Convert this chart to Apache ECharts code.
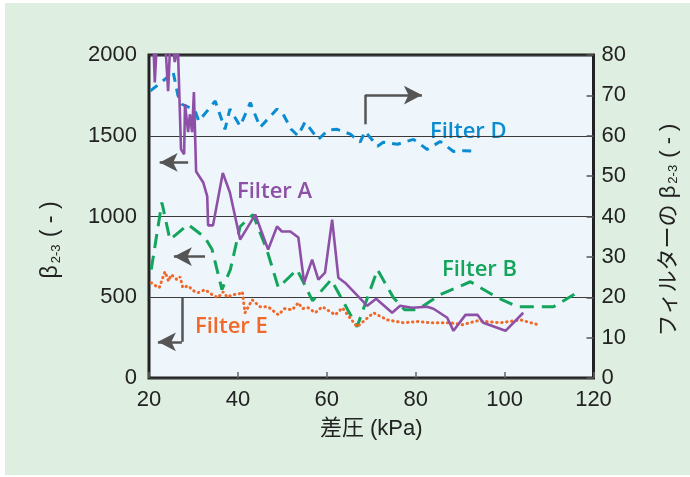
<!DOCTYPE html>
<html><head><meta charset="utf-8">
<script src="https://cdn.jsdelivr.net/npm/echarts@6/dist/echarts.min.js"></script>
<style>html,body{margin:0;padding:0;background:#fff;}#c{position:absolute;left:5px;top:3px;width:685px;height:472px;background:#deeee0;}</style>
</head><body><div id="c"></div>
<script>
// ---- data ----
const xTicks = [20, 40, 60, 80, 100, 120];
const leftTicks = [0, 500, 1000, 1500, 2000];
const rightTicks = [0, 10, 20, 30, 40, 50, 60, 70, 80];

const aX = [20.9, 21.3, 21.9, 23.5, 24.3, 24.9, 25.8, 26.5, 27.2, 27.9, 28.1, 28.8, 29.2, 29.7, 30.1, 30.6, 32.2, 33.1, 33.3, 34.4, 36.6, 38.2, 40.5, 43.9, 46.8, 48.8, 49.9, 51.8, 53.6, 54.9, 56.7, 58.1, 59.6, 61.2, 62.6, 64.1, 69.1, 71.1, 74.7, 76.5, 79.2, 82.6, 84.0, 87.1, 88.5, 91.2, 93.9, 95.2, 100.2, 104.2];
const aY = [2150, 1830, 2150, 2150, 1776, 2150, 1956, 2050, 1416, 1385, 1696, 1522, 1633, 1522, 1770, 1279, 1211, 1124, 945, 945, 1270, 1149, 857, 1012, 795, 938, 907, 907, 870, 590, 733, 609, 652, 981, 621, 590, 447, 491, 404, 447, 435, 441, 429, 373, 292, 391, 391, 342, 292, 404];

const bX = [20.5, 22.9, 24.7, 28.8, 32.6, 34.2, 36.4, 38.3, 40.5, 43.4, 46.5, 49.1, 53.3, 56.8, 61.0, 66.8, 71.4, 75.0, 77.5, 80.4, 85.5, 92.3, 98.4, 102.9, 111.0, 116.4];
const bY = [671, 1087, 857, 950, 870, 795, 547, 671, 938, 1012, 795, 560, 671, 478, 609, 317, 671, 497, 422, 422, 516, 596, 497, 441, 441, 530];

const dX = [20.3, 23.6, 25.4, 26.5, 27.4, 29.0, 30.4, 31.2, 34.9, 37.1, 38.2, 40.5, 42.8, 45.0, 48.8, 50.2, 52.0, 53.5, 55.1, 58.1, 60.3, 62.3, 65.3, 67.5, 68.6, 71.4, 72.7, 75.9, 79.5, 82.6, 85.5, 88.5, 91.0, 93.9];
const dY = [71.1, 74.0, 76.0, 70.0, 67.8, 67.0, 66.1, 63.6, 68.6, 61.6, 66.6, 62.4, 68.2, 62.1, 66.6, 65.3, 61.6, 60.0, 63.4, 59.1, 61.4, 61.6, 60.4, 58.4, 61.1, 57.4, 58.4, 57.9, 59.1, 56.6, 58.6, 56.1, 56.3, 56.1];

const eX = [20.5, 21.5, 22.3, 23.6, 24.4, 25.0, 26.3, 27.0, 27.6, 28.8, 30.0, 31.0, 32.6, 34.0, 35.5, 36.7, 37.6, 38.7, 40.2, 41.0, 41.6, 43.2, 45.0, 46.8, 49.1, 50.5, 52.2, 53.6, 54.5, 55.8, 57.4, 59.0, 61.9, 63.5, 65.0, 66.8, 70.5, 73.6, 77.2, 80.5, 83.3, 87.8, 90.5, 93.9, 99.1, 103.6, 107.6];
const eY = [590, 571, 559, 658, 600, 640, 609, 627, 559, 571, 540, 528, 547, 520, 497, 534, 500, 515, 520, 534, 404, 484, 441, 441, 391, 430, 422, 466, 430, 435, 404, 441, 391, 435, 380, 317, 404, 360, 342, 350, 342, 342, 330, 354, 342, 360, 329];

// arrows in data coordinates (x: kPa, y: left axis)
const arrowLeftA = [[28.8, 1335], [22.4, 1335]];
const arrowLeftB = [[32.6, 752], [25.6, 752]];
const arrowEStem = [[27.4, 497], [27.4, 224]];
const arrowEHead = [[27.4, 224], [22.0, 224]];
const arrowDStem = [[68.6, 1571], [68.6, 1752]];
const arrowDHead = [[68.6, 1752], [81.4, 1752]];

const pairs = (xs, ys) => xs.map((x, i) => [x, ys[i]]);

const OX = 5, OY = 3;
const NUMFONT = "'Liberation Sans','Noto Sans CJK JP',sans-serif";
const LBLFONT = "'Open Sans','Noto Sans',sans-serif";
const colA = '#8e4fa6', colB = '#12a55b', colD = '#0b8cd1', colE = '#f0692a', colArrow = '#555';

const seg = (p, q, arrow) => [
  {coord: p, symbol: 'none'},
  {coord: q, symbol: arrow ? 'arrow' : 'none', symbolSize: [14, 18]}
];

const chart = echarts.init(document.getElementById('c'), null, {renderer: 'canvas'});
chart.setOption({
  animation: false,
  grid: {left: 149 - OX, top: 55 - OY, right: 685 - (593.5 - OX), bottom: 472 - (378 - OY),
    show: true, borderColor: '#222', borderWidth: 3, backgroundColor: '#eef6fc'},
  xAxis: {type: 'value', min: xTicks[0], max: xTicks[xTicks.length - 1], interval: 20,
    axisLine: {show: false}, splitLine: {show: false},
    axisTick: {show: true, inside: true, length: 6, lineStyle: {color: '#666', width: 1.5}},
    axisLabel: {margin: 11, color: '#222', fontSize: 22, fontFamily: NUMFONT, formatter: v => String(v)},
    name: '差圧 (kPa)', nameLocation: 'middle', nameGap: 40,
    nameTextStyle: {color: '#222', fontSize: 22, fontFamily: NUMFONT}},
  yAxis: [
    {type: 'value', min: leftTicks[0], max: leftTicks[leftTicks.length - 1], interval: 500,
      axisLine: {show: false}, axisTick: {show: false},
      axisLabel: {margin: 12, color: '#222', fontSize: 22, fontFamily: NUMFONT, formatter: v => String(v)},
      splitLine: {show: true, lineStyle: {color: '#3a3a3a', width: 1.2}}},
    {type: 'value', position: 'right', min: rightTicks[0], max: rightTicks[rightTicks.length - 1], interval: 10,
      axisLine: {show: false}, splitLine: {show: false},
      axisTick: {show: true, inside: true, length: 7, lineStyle: {color: '#555', width: 1.5}},
      axisLabel: {margin: 8, color: '#222', fontSize: 22, fontFamily: NUMFONT, formatter: v => String(v)}}
  ],
  series: [
    {name: 'Filter B', type: 'line', yAxisIndex: 0, data: pairs(bX, bY), showSymbol: false, symbol: 'none',
      lineStyle: {color: colB, width: 3, type: [14, 8]}, z: 3},
    {name: 'Filter E', type: 'line', yAxisIndex: 0, data: pairs(eX, eY), showSymbol: false, symbol: 'none',
      lineStyle: {color: colE, width: 3, type: [0.5, 4.5], cap: 'round'}, z: 3},
    {name: 'Filter D', type: 'line', yAxisIndex: 1, data: pairs(dX, dY), showSymbol: false, symbol: 'none',
      lineStyle: {color: colD, width: 3, type: [9, 7]}, z: 3},
    {name: 'Filter A', type: 'line', yAxisIndex: 0, data: pairs(aX, aY), showSymbol: false, symbol: 'none',
      lineStyle: {color: colA, width: 2.6}, z: 4,
      markLine: {silent: true, animation: false, symbol: ['none', 'none'],
        label: {show: false}, emphasis: {disabled: true},
        lineStyle: {color: colArrow, width: 2.5, type: 'solid'},
        data: [seg(arrowLeftA[0], arrowLeftA[1], true), seg(arrowLeftB[0], arrowLeftB[1], true),
               seg(arrowEStem[0], arrowEStem[1], false), seg(arrowEHead[0], arrowEHead[1], true),
               seg(arrowDStem[0], arrowDStem[1], false), seg(arrowDHead[0], arrowDHead[1], true)]}}
  ],
  graphic: [
    {type: 'text', x: 430 - OX, y: 132 - OY, style: {text: 'Filter D', fill: colD, font: '600 22px ' + LBLFONT, verticalAlign: 'middle'}},
    {type: 'text', x: 237 - OX, y: 192 - OY, style: {text: 'Filter A', fill: colA, font: '600 22px ' + LBLFONT, verticalAlign: 'middle'}},
    {type: 'text', x: 442 - OX, y: 270 - OY, style: {text: 'Filter B', fill: colB, font: '600 22px ' + LBLFONT, verticalAlign: 'middle'}},
    {type: 'text', x: 195 - OX, y: 327 - OY, style: {text: 'Filter E', fill: colE, font: '600 22px ' + LBLFONT, verticalAlign: 'middle'}},
    {type: 'text', x: 51 - OX, y: 240 - OY, rotation: Math.PI / 2,
      style: {text: '{m|β}{s|2-3}{m| ( - )}', align: 'center', verticalAlign: 'middle',
        rich: {m: {fontSize: 23, fontFamily: NUMFONT, fill: '#222', color: '#222'},
               s: {fontSize: 13, fontFamily: NUMFONT, fill: '#222', color: '#222', verticalAlign: 'bottom', padding: [6, 1, 0, 2]}}}},
    {type: 'text', x: 669 - OX, y: 230 - OY, rotation: Math.PI / 2,
      style: {text: '{m|フィルターの β}{s|2-3}{m| ( - )}', align: 'center', verticalAlign: 'middle',
        rich: {m: {fontSize: 22, fontFamily: NUMFONT, fill: '#222', color: '#222'},
               s: {fontSize: 13, fontFamily: NUMFONT, fill: '#222', color: '#222', verticalAlign: 'bottom', padding: [6, 1, 0, 2]}}}}
  ]
});
</script></body></html>
